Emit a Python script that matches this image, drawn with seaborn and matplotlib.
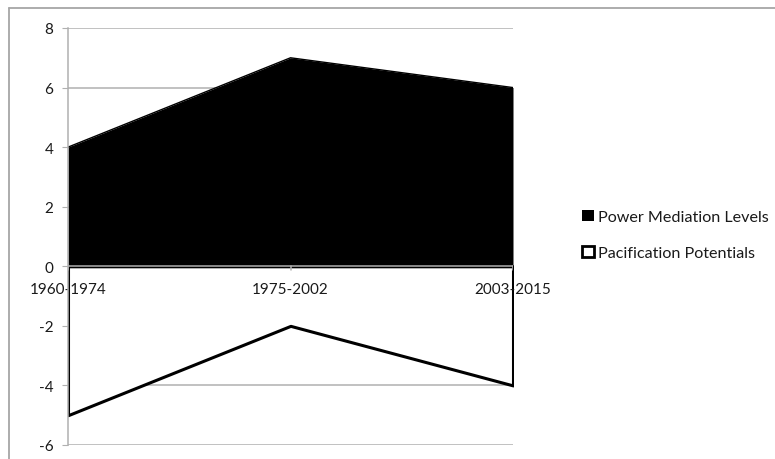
import matplotlib
matplotlib.use("Agg")
import matplotlib.pyplot as plt
from matplotlib.patches import Patch
from matplotlib.lines import Line2D
import seaborn as sns
import pandas as pd

periods = ["1960-1974", "1975-2002", "2003-2015"]
power_mediation = [4, 7, 6]
pacification = [-5, -2, -4]
y_ticks = [-6, -4, -2, 0, 2, 4, 6, 8]

sns.set_theme(style="white")
plt.rcParams["font.family"] = ["Lato", "DejaVu Sans"]

df = pd.DataFrame({"pos": range(len(periods)), "period": periods,
                   "power": power_mediation, "pacification": pacification})

fig = plt.figure(figsize=(7.75, 4.6), dpi=100)
ax = fig.add_axes([68 / 775, 1 - 446 / 460, (513 - 68) / 775, (446 - 29) / 460])

grid_c = "#b0b0b0"
text_c = "#1a1a1a"

# horizontal gridlines
for v in y_ticks:
    ax.axhline(v, color=grid_c, lw=1.1, zorder=0)

# Power Mediation Levels: filled area above zero
ax.fill_between(df["pos"], df["power"], 0, color="black", lw=0, zorder=2)
sns.lineplot(data=df, x="pos", y="power", color="black", lw=1, ax=ax, zorder=2)

# Pacification Potentials: white area with black outline below zero
ax.fill_between(df["pos"], df["pacification"], 0, facecolor="white",
                edgecolor="black", lw=2.2, zorder=3)

# category axis along zero
ax.axhline(0, color=grid_c, lw=1.1, zorder=4)
for i, name in enumerate(periods):
    ax.plot([i, i], [0, -0.12], color=grid_c, lw=1.1, zorder=4)
    ax.annotate(name, (i, 0), xytext=(0, -16), textcoords="offset points",
                ha="center", va="center", fontsize=11, color=text_c, zorder=5)

ax.set_xlim(0, 2)
ax.set_ylim(-6, 8)
ax.set_yticks(y_ticks)
ax.set_yticklabels([str(v) for v in y_ticks], fontsize=11, color=text_c)
ax.set_xticks([])
ax.set_xlabel("")
ax.set_ylabel("")
ax.tick_params(axis="y", which="major", left=True, length=4.5, width=0.8,
               color=grid_c, pad=6)
for s in ["top", "right", "bottom"]:
    ax.spines[s].set_visible(False)
ax.spines["left"].set_color(grid_c)
ax.spines["left"].set_linewidth(1.1)
ax.spines["left"].set_zorder(6)

# legend
handles = [Patch(facecolor="black", edgecolor="black", lw=0),
           Patch(facecolor="white", edgecolor="black", lw=2)]
leg = fig.legend(handles, ["Power Mediation Levels", "Pacification Potentials"],
                 loc="center left", bbox_to_anchor=(574 / 775, 1 - 236 / 460),
                 frameon=False, fontsize=11.6, handlelength=0.72, handleheight=0.72,
                 handletextpad=0.3, labelspacing=1.35, borderpad=0)
for t in leg.get_texts():
    t.set_color(text_c)

# chart frame
fig.add_artist(Line2D([9 / 775, 9 / 775], [1 - 9 / 460, 0], color="#a6a6a6", lw=1.3))
fig.add_artist(Line2D([9 / 775, 1], [1 - 9 / 460, 1 - 9 / 460], color="#a6a6a6", lw=1.3))

fig.savefig("out.png", dpi=100, facecolor="white")
